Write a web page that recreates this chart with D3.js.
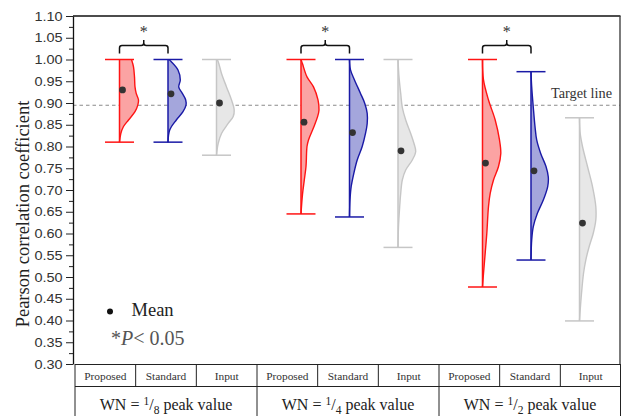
<!DOCTYPE html>
<html>
<head>
<meta charset="utf-8">
<script src="https://cdn.jsdelivr.net/npm/d3@7"></script>
<style>
  html, body { margin: 0; padding: 0; background: #fff; }
  svg { display: block; }
</style>
</head>
<body>
<svg id="chart" width="623" height="416"></svg>
<script>
// ---------------- DATA ----------------
const methods = ["Proposed", "Standard", "Input"];
const groupDenominators = ["8", "4", "2"];   // WN = 1/n peak value
const yTickValues = [0.30,0.35,0.40,0.45,0.50,0.55,0.60,0.65,0.70,0.75,0.80,0.85,0.90,0.95,1.00,1.05,1.10];
const targetValue = 0.895;

const meanValues = [[0.930, 0.921, 0.900], [0.856, 0.832, 0.790], [0.762, 0.744, 0.624]];
const minValues  = [[0.810, 0.810, 0.780], [0.645, 0.638, 0.568], [0.477, 0.539, 0.399]];
const maxValues  = [[1.000, 1.000, 1.000], [1.000, 1.000, 1.000], [1.000, 0.972, 0.866]];

// kernel density outlines: [value, density (arbitrary units)]
const densityG1 = [
  [[1.00,12],[0.983,14],[0.96,15],[0.937,15.5],[0.922,16.7],[0.907,19],[0.895,18.3],[0.88,15.5],[0.861,9],[0.846,4],[0.83,1.3],[0.81,0]],
  [[1.00,1],[0.995,3.3],[0.976,10],[0.953,12.3],[0.937,10.7],[0.922,14.3],[0.907,17.7],[0.895,18],[0.88,15],[0.861,8.3],[0.838,1.7],[0.81,0]],
  [[1.00,0.5],[0.995,1.7],[0.968,5],[0.937,10],[0.907,15],[0.884,17.7],[0.869,16.7],[0.853,11.7],[0.83,5],[0.807,1.7],[0.78,0]]
];
const densityG2 = [
  [[1.00,0],[0.99,1.5],[0.96,6],[0.937,12.5],[0.907,17],[0.884,18],[0.868,16.5],[0.846,13],[0.815,7.5],[0.80,6],[0.754,5],[0.723,3.3],[0.69,1.5],[0.645,0]],
  [[1.00,0],[0.976,1],[0.953,5],[0.922,11],[0.899,15.3],[0.876,17.7],[0.853,17.7],[0.83,16],[0.80,12.7],[0.769,7.7],[0.738,4.3],[0.708,1.7],[0.677,0.5],[0.638,0]],
  [[1.00,0],[0.96,1],[0.922,2.7],[0.89,4.3],[0.861,7.7],[0.83,12.7],[0.807,16],[0.788,17.7],[0.769,14.3],[0.746,7.7],[0.723,4.3],[0.692,2.7],[0.662,1.7],[0.616,0.5],[0.568,0]]
];
const densityG3 = [
  [[1.00,0],[0.953,1],[0.907,6],[0.861,12.7],[0.815,17],[0.784,18.3],[0.754,16],[0.723,11],[0.692,7.7],[0.662,6],[0.60,4.3],[0.555,2.7],[0.508,1],[0.477,0]],
  [[0.972,0],[0.937,0.7],[0.89,2.3],[0.846,4],[0.815,5.7],[0.784,9.7],[0.754,15],[0.73,17.3],[0.708,16.7],[0.677,12.3],[0.646,6.3],[0.616,2.3],[0.585,0.7],[0.539,0]],
  [[0.866,0],[0.83,0.7],[0.80,3],[0.754,8],[0.708,13],[0.662,16.3],[0.631,16.3],[0.60,13.7],[0.57,9.7],[0.539,6.3],[0.508,4],[0.462,2],[0.424,0.7],[0.399,0]]
];
const densities = [densityG1, densityG2, densityG3];

// ---------------- STYLE ----------------
const strokeColors = ["#ff1414", "#1a1aa6", "#c6c6c6"];
const fillColors   = ["#fba3a3", "#a4a6dc", "#e7e7e7"];
const serif = "'Liberation Serif', 'Times New Roman', serif";
const sans  = "'Liberation Sans', Arial, sans-serif";

// ---------------- LAYOUT ----------------
const svg = d3.select("#chart");
const W = 623, H = 416;
const plotLeft = 73, plotRight = 620, plotTop = 16, plotBottom = 364;
const tableLeft = 75, tableRight = 621, rowSplit = 386.5;
const groupStep = 3.742;

svg.append("rect").attr("width", W).attr("height", H).attr("fill", "#fff");

const y = d3.scaleLinear().domain([0.30, 1.10]).range([plotBottom, plotTop]);
const x = d3.scaleLinear().domain([0, 2 * groupStep + 2]).range([119.5, 579.5]);
const w = d3.scaleLinear().domain([0, 20]).range([0, 20]);
const col = d3.scaleBand().domain(d3.range(9)).range([tableLeft, tableRight]);
const posOf = (g, i) => g * groupStep + i;

// target line
svg.append("line")
  .attr("x1", plotLeft).attr("x2", plotRight)
  .attr("y1", y(targetValue)).attr("y2", y(targetValue))
  .attr("stroke", "#8a8a8a").attr("stroke-width", 1.1).attr("stroke-dasharray", "3.5,3");

svg.append("text")
  .attr("x", 612).attr("y", y(targetValue) - 7)
  .attr("text-anchor", "end")
  .attr("font-family", serif).attr("font-size", 14.3).attr("fill", "#333")
  .text("Target line");

// violins
const area = d3.area().curve(d3.curveCatmullRom.alpha(0.5));
const line = d3.line().curve(d3.curveCatmullRom.alpha(0.5));

densities.forEach((grp, g) => {
  grp.forEach((dens, i) => {
    const cx = x(posOf(g, i));
    const gEl = svg.append("g");
    area.y(d => y(d[0])).x0(cx).x1(d => cx + w(d[1]));
    gEl.append("path").attr("d", area(dens)).attr("fill", fillColors[i]).attr("stroke", "none");
    line.x(d => cx + w(d[1])).y(d => y(d[0]));
    gEl.append("path").attr("d", line(dens)).attr("fill", "none")
      .attr("stroke", strokeColors[i]).attr("stroke-width", 1.4);
    // center line
    gEl.append("line").attr("x1", cx).attr("x2", cx)
      .attr("y1", y(minValues[g][i])).attr("y2", y(maxValues[g][i]))
      .attr("stroke", strokeColors[i]).attr("stroke-width", 1.5);
    // caps
    [minValues[g][i], maxValues[g][i]].forEach(v => {
      gEl.append("line").attr("x1", cx - 14.5).attr("x2", cx + 14.5)
        .attr("y1", y(v)).attr("y2", y(v))
        .attr("stroke", strokeColors[i]).attr("stroke-width", 1.5);
    });
    // mean dot
    gEl.append("circle").attr("cx", cx + 3).attr("cy", y(meanValues[g][i]))
      .attr("r", 3.4).attr("fill", "#333");
  });

  // significance bracket between Proposed and Standard
  const x1 = x(posOf(g, 0)), x2 = x(posOf(g, 1)), xc = (x1 + x2) / 2;
  const yh = y(1.032), yb = y(1.014), yt = y(1.045), r = 2.5;
  const p = `M${x1},${yb} L${x1},${yh + r} Q${x1},${yh} ${x1 + r},${yh} L${xc - r},${yh} Q${xc},${yh} ${xc},${yh - r} L${xc},${yt}` +
            ` M${xc},${yh - r} Q${xc},${yh} ${xc + r},${yh} L${x2 - r},${yh} Q${x2},${yh} ${x2},${yh + r} L${x2},${yb}`;
  svg.append("path").attr("d", p).attr("fill", "none").attr("stroke", "#111").attr("stroke-width", 1.5);
  svg.append("text").attr("x", xc).attr("y", y(1.05) - 0.5)
    .attr("text-anchor", "middle").attr("font-family", serif).attr("font-size", 16).attr("fill", "#333")
    .text("*");
});

// frame
svg.append("line").attr("x1", plotLeft).attr("x2", plotRight + 0.5).attr("y1", plotTop).attr("y2", plotTop)
  .attr("stroke", "#111").attr("stroke-width", 1.6);
svg.append("line").attr("x1", plotRight).attr("x2", plotRight).attr("y1", plotTop).attr("y2", plotBottom)
  .attr("stroke", "#444").attr("stroke-width", 1.4);

// y axis
const minorTicks = d3.range(0.325, 1.10, 0.05);
svg.append("g").attr("transform", `translate(${plotLeft},0)`)
  .call(d3.axisLeft(y).tickValues(minorTicks).tickSize(4).tickSizeOuter(0).tickFormat(""))
  .call(s => s.select(".domain").remove())
  .call(s => s.selectAll("line").attr("stroke", "#222"));
const yAxis = svg.append("g").attr("transform", `translate(${plotLeft},0)`)
  .call(d3.axisLeft(y).tickValues(yTickValues).tickSize(7).tickSizeOuter(0).tickPadding(2).tickFormat(d3.format(".2f")));
yAxis.select(".domain").attr("stroke", "#111").attr("stroke-width", 1.3);
yAxis.selectAll("line").attr("stroke", "#222");
yAxis.selectAll("text")
  .attr("font-family", sans).attr("font-size", 12.6).attr("fill", "#333")
  .attr("transform", "scale(1.15,1)");

// y label
svg.append("text")
  .attr("transform", `translate(29,214) rotate(-90)`)
  .attr("text-anchor", "middle")
  .attr("font-family", serif).attr("font-size", 18.5).attr("fill", "#222")
  .text("Pearson correlation coefficient");

// legend
svg.append("circle").attr("cx", 110).attr("cy", 311.5).attr("r", 3).attr("fill", "#111");
svg.append("text").attr("x", 131.5).attr("y", 316)
  .attr("font-family", serif).attr("font-size", 18.5).attr("fill", "#222").text("Mean");
const pt = svg.append("text").attr("x", 111).attr("y", 345)
  .attr("font-family", serif).attr("font-size", 20).attr("fill", "#555");
pt.append("tspan").text("*");
pt.append("tspan").attr("font-style", "italic").text("P");
pt.append("tspan").text("< 0.05");

// table
const tbl = svg.append("g").attr("stroke", "#222").attr("stroke-width", 1);
tbl.append("line").attr("x1", tableLeft).attr("x2", tableRight).attr("y1", plotBottom + 0.5).attr("y2", plotBottom + 0.5);
tbl.append("line").attr("x1", tableLeft).attr("x2", tableRight).attr("y1", rowSplit).attr("y2", rowSplit);
tbl.append("line").attr("x1", tableLeft).attr("x2", tableLeft).attr("y1", plotBottom).attr("y2", H);
tbl.append("line").attr("x1", tableRight - 0.5).attr("x2", tableRight - 0.5).attr("y1", plotBottom).attr("y2", H);
d3.range(1, 9).forEach(k => {
  const xx = col(k);
  tbl.append("line").attr("x1", xx).attr("x2", xx)
    .attr("y1", plotBottom).attr("y2", k % 3 === 0 ? H : rowSplit);
});
d3.range(9).forEach(k => {
  svg.append("text")
    .attr("x", col(k) + col.bandwidth() / 2).attr("y", 380)
    .attr("text-anchor", "middle")
    .attr("font-family", serif).attr("font-size", 11.4).attr("fill", "#333")
    .text(methods[k % 3]);
});
groupDenominators.forEach((den, g) => {
  const cxg = col(g * 3) + col.bandwidth() * 1.5;
  const t = svg.append("text").attr("x", cxg).attr("y", 409.5)
    .attr("text-anchor", "middle")
    .attr("font-family", serif).attr("font-size", 16).attr("fill", "#222");
  t.append("tspan").text("WN = ");
  t.append("tspan").attr("font-size", 11.5).attr("dy", -5).text("1");
  t.append("tspan").attr("dy", 5).text("/");
  t.append("tspan").attr("font-size", 11.5).attr("dy", 4).text(den);
  t.append("tspan").attr("dy", -4).text(" peak value");
});
</script>
</body>
</html>
